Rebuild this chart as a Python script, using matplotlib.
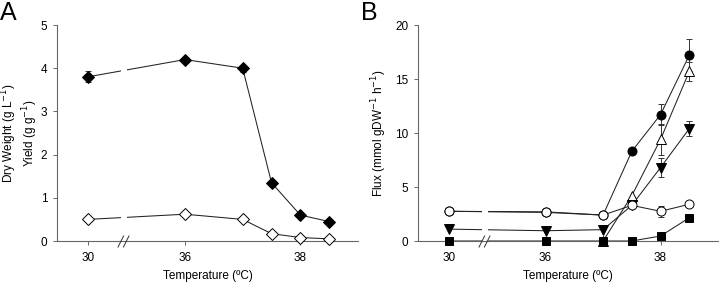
import numpy as np
import matplotlib
matplotlib.use("Agg")
import matplotlib.pyplot as plt
from matplotlib.path import Path

plt.rcParams['font.family'] = ['Liberation Sans', 'DejaVu Sans']

# ---- data ----
temps = [30, 36, 37, 37.5, 38, 38.5]
xticks = [30, 36, 38]

dry_weight = [3.80, 4.20, 4.00, 1.35, 0.60, 0.45]
dry_weight_err = [0.13, 0.03, 0.08, 0.05, 0.04, 0.03]
yield_gg = [0.50, 0.62, 0.50, 0.17, 0.08, 0.05]

flux_filled_circle = [2.75, 2.70, 2.40, 8.30, 11.70, 17.20]
flux_filled_circle_err = [0, 0, 0, 0, 1.0, 1.5]
flux_open_circle = [2.75, 2.65, 2.40, 3.30, 2.75, 3.40]
flux_open_circle_err = [0, 0, 0, 0, 0.5, 0]
flux_open_tri = [None, None, 0.0, 4.20, 9.40, 15.70]
flux_open_tri_err = [0, 0, 0, 0, 1.4, 0.9]
flux_down_tri = [1.10, 0.95, 1.05, 3.30, 6.80, 10.40]
flux_down_tri_err = [0, 0, 0, 0, 0.9, 0.7]
flux_square = [0.0, 0.0, 0.0, 0.0, 0.46, 2.15]

# ---- broken x scale ----
K = 0.281
def fwd(t):
    t = np.asarray(t, dtype=float)
    return np.where(t >= 36, t, 36 - (36 - t) * K)
def inv(f):
    f = np.asarray(f, dtype=float)
    return np.where(f >= 36, f, 36 - (36 - f) / K)

GAP = (32.04, 32.41)
BREAK_AT = 32.2

brk = Path([(-0.95, -1), (0.05, 1), (-0.05, -1), (0.95, 1)],
           [Path.MOVETO, Path.LINETO, Path.MOVETO, Path.LINETO])

fig = plt.figure(figsize=(7.2, 2.82), dpi=100)
axA = fig.add_axes([57/720, 41/282, 301/720, 216/282])
axB = fig.add_axes([418/720, 41/282, 300/720, 216/282])

spine_col = '#666666'
line_kw = dict(color='#222222', lw=0.75, zorder=2)
FS = 8.5

def style(ax):
    ax.set_xscale('function', functions=(fwd, inv))
    ax.set_xlim(28.1, 39.0)
    ax.set_xticks(xticks)
    ax.set_xticklabels([str(t) for t in xticks])
    for s in ['top', 'right']:
        ax.spines[s].set_visible(False)
    for s in ['left', 'bottom']:
        ax.spines[s].set_color(spine_col)
        ax.spines[s].set_linewidth(0.8)
        ax.spines[s].set_zorder(2.5)
    ax.tick_params(axis='both', direction='out', length=3, width=0.7,
                   color=spine_col, labelsize=FS, pad=4)
    ax.tick_params(axis='x', pad=5)
    ax.axvspan(GAP[0], GAP[1], color='white', zorder=2.2, lw=0)
    ax.plot([BREAK_AT], [0], marker=brk, ms=8.6, mew=0.7, color='#333333',
            ls='none', clip_on=False, zorder=4,
            transform=ax.get_xaxis_transform())
    ax.set_xlabel('Temperature (ºC)', fontsize=FS, labelpad=4)

def series(ax, y, err=None, marker='o', face='k', ms=6.5, z=3):
    t = np.array([tt for tt, v in zip(temps, y) if v is not None])
    v = np.array([vv for vv in y if vv is not None], dtype=float)
    ax.plot(t, v, **line_kw)
    if err is not None:
        e = np.array([ee for ee, vv in zip(err, y) if vv is not None], dtype=float)
        m = e > 0
        ax.errorbar(t[m], v[m], yerr=e[m], fmt='none', ecolor='#333333',
                    elinewidth=0.7, capsize=2.5, capthick=0.7, zorder=2.3)
    ax.plot(t, v, ls='none', marker=marker, ms=ms, mfc=face, mec='k',
            mew=0.7, zorder=z, clip_on=False)

# ---- Panel A ----
style(axA)
axA.set_ylim(0, 5)
axA.set_yticks([0, 1, 2, 3, 4, 5])
series(axA, dry_weight, dry_weight_err, marker='D', face='k', ms=6.2, z=3)
series(axA, yield_gg, None, marker='D', face='white', ms=6.2, z=3.1)
axA.set_ylabel('Dry Weight (g L$^{-1}$)\nYield (g g$^{-1}$)', fontsize=FS,
               multialignment='center', linespacing=1.1)
axA.yaxis.set_label_coords(-0.057, 0.5)

# ---- Panel B ----
style(axB)
axB.set_ylim(0, 20)
axB.set_yticks([0, 5, 10, 15, 20])
series(axB, flux_filled_circle, flux_filled_circle_err, marker='o', face='k', ms=6.5, z=3.0)
series(axB, flux_open_tri, flux_open_tri_err, marker='^', face='white', ms=6.8, z=3.1)
series(axB, flux_down_tri, flux_down_tri_err, marker='v', face='k', ms=6.8, z=3.2)
series(axB, flux_open_circle, flux_open_circle_err, marker='o', face='white', ms=6.5, z=3.3)
series(axB, flux_square, None, marker='s', face='k', ms=5.2, z=3.4)
axB.set_ylabel('Flux (mmol gDW$^{-1}$ h$^{-1}$)', fontsize=FS)
axB.yaxis.set_label_coords(-0.097, 0.5)

fig.text(0/720, 1 - 1/282, 'A', fontsize=18, va='top', ha='left')
fig.text(361/720, 1 - 1/282, 'B', fontsize=18, va='top', ha='left')

fig.savefig('out.png', dpi=100)
